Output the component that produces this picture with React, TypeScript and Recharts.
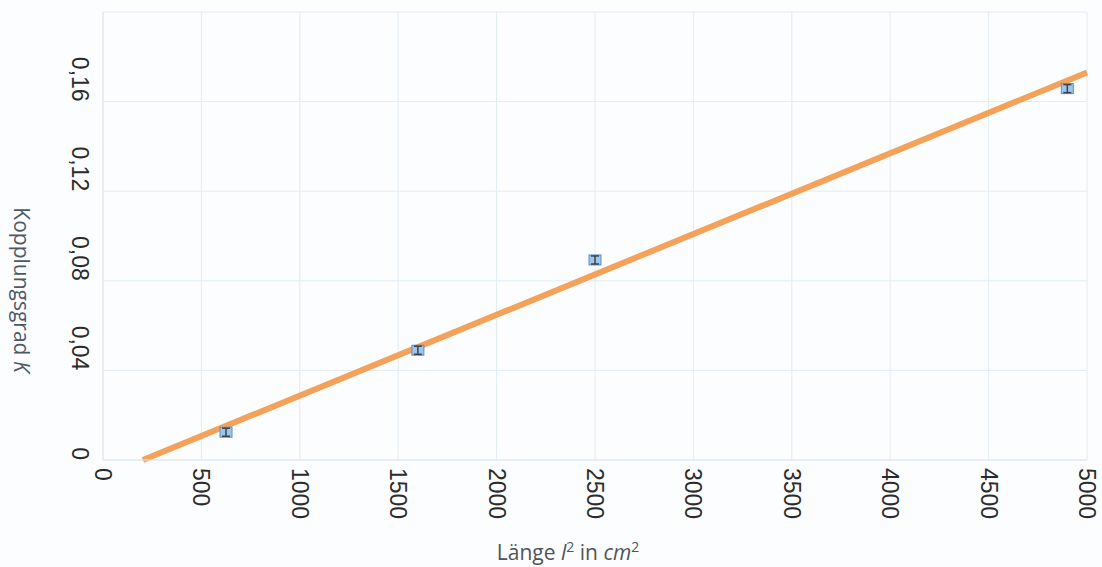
import React from "react";
import {
  ComposedChart,
  Line,
  Scatter,
  XAxis,
  YAxis,
  CartesianGrid,
} from "recharts";

// Measured data: squared length l² (cm²) vs coupling factor K
const lengthsSq = [625, 1600, 2500, 4900];
const coupling = [0.0124, 0.049, 0.0893, 0.1658];
const couplingErr = [0.0018, 0.0018, 0.0018, 0.0018];

// Linear fit line endpoints
const fitLengths = [203, 5000];
const fitCoupling = [0, 0.173];

const xTicks = [0, 500, 1000, 1500, 2000, 2500, 3000, 3500, 4000, 4500, 5000];
const yTicks = [0, 0.04, 0.08, 0.12, 0.16, 0.2];

const measured = lengthsSq.map((x, i) => ({ x, k: coupling[i] }));
const fit = fitLengths.map((x, i) => ({ x, k: fitCoupling[i] }));
const errorBars = lengthsSq.map((x, i) => [
  { x, k: coupling[i] - couplingErr[i] },
  { x, k: coupling[i] + couplingErr[i] },
]);

const TICK_FONT = "'Liberation Sans', Arial, sans-serif";
const TITLE_FONT = "'Open Sans', 'Noto Sans', sans-serif";
const ERR_COLOR = "#3c4250";

const XTick = (props: any) => {
  const { x, y, payload } = props;
  return (
    <text
      transform={`translate(${x},${y + 2}) rotate(90)`}
      textAnchor="start"
      dominantBaseline="central"
      fontSize={23}
      fontFamily={TICK_FONT}
      fill="#2b2b2b"
    >
      {String(payload.value)}
    </text>
  );
};

const YTick = (props: any) => {
  const { y, payload } = props;
  if (payload.value >= 0.2) return null;
  const label = payload.value === 0 ? "0" : payload.value.toFixed(2).replace(".", ",");
  return (
    <text
      transform={`translate(80,${y}) rotate(90)`}
      textAnchor="end"
      dominantBaseline="central"
      fontSize={23}
      fontFamily={TICK_FONT}
      fill="#2b2b2b"
    >
      {label}
    </text>
  );
};

const Marker = (props: any) => {
  const { cx, cy } = props;
  return (
    <rect
      x={cx - 6}
      y={cy - 5}
      width={12}
      height={10}
      fill="#9cc6ea"
      stroke="#5e8fc4"
      strokeWidth={1}
    />
  );
};

const Cap = (props: any) => {
  const { cx, cy } = props;
  return (
    <line
      x1={cx - 4}
      x2={cx + 4}
      y1={cy}
      y2={cy}
      stroke={ERR_COLOR}
      strokeWidth={1.5}
    />
  );
};

export default function App() {
  return (
    <div
      style={{
        position: "absolute",
        left: 0,
        top: 0,
        width: 1102,
        height: 567,
        background: "#fcfdfe",
      }}
    >
      <ComposedChart
        width={1102}
        height={567}
        margin={{ top: 12, right: 15, left: 0, bottom: 0 }}
      >
        <CartesianGrid stroke="#e2ecf5" strokeWidth={1} />
        <XAxis
          dataKey="x"
          type="number"
          domain={[0, 5000]}
          ticks={xTicks}
          interval={0}
          height={107}
          tick={<XTick />}
          tickLine={false}
          tickSize={0}
          tickMargin={6}
          axisLine={{ stroke: "#dfe6ee" }}
          allowDuplicatedCategory={false}
        />
        <YAxis
          dataKey="k"
          type="number"
          domain={[0, 0.2]}
          ticks={yTicks}
          interval={0}
          width={103}
          tick={<YTick />}
          tickLine={false}
          axisLine={{ stroke: "#dfe6ee" }}
        />
        <Line
          data={fit}
          dataKey="k"
          type="linear"
          stroke="#f4a15a"
          strokeWidth={6}
          dot={false}
          activeDot={false}
          isAnimationActive={false}
        />
        <Scatter
          data={measured}
          dataKey="k"
          shape={<Marker />}
          isAnimationActive={false}
        />
        {errorBars.map((seg, i) => (
          <Scatter
            key={`err${i}`}
            data={seg}
            dataKey="k"
            shape={<Cap />}
            line={{ stroke: ERR_COLOR, strokeWidth: 1.5 }}
            isAnimationActive={false}
          />
        ))}
        <text
          transform="translate(22,290) rotate(90)"
          textAnchor="middle"
          dominantBaseline="central"
          fontSize={21}
          fontFamily={TITLE_FONT}
          fill="#4f5966"
        >
          Kopplungsgrad <tspan fontStyle="italic">K</tspan>
        </text>
        <text
          x={568}
          y={560}
          textAnchor="middle"
          fontSize={21}
          fontFamily={TITLE_FONT}
          fill="#4f5459"
        >
          Länge <tspan fontStyle="italic">l</tspan>
          <tspan fontSize={14} dy={-8}>2</tspan>
          <tspan dy={8}> in </tspan>
          <tspan fontStyle="italic">cm</tspan>
          <tspan fontSize={14} dy={-8}>2</tspan>
        </text>
      </ComposedChart>
    </div>
  );
}
